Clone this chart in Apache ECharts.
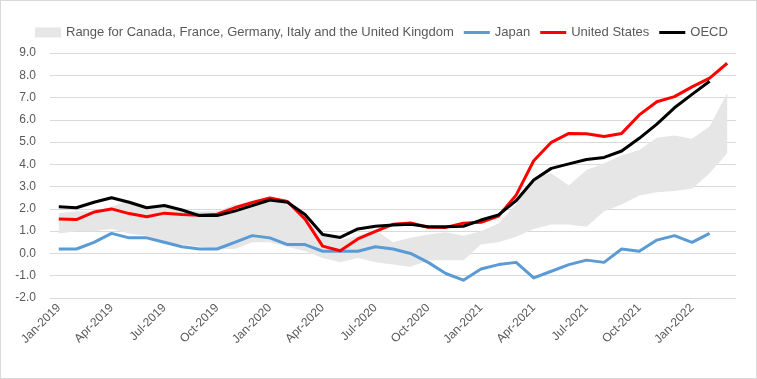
<!DOCTYPE html>
<html><head><meta charset="utf-8">
<script src="https://cdn.jsdelivr.net/npm/echarts@6/dist/echarts.min.js"></script>
<style>
html,body{margin:0;padding:0;background:#fff}
#c{width:757px;height:379px;position:absolute;left:0;top:0}
#frame{position:absolute;left:0;top:0;width:757px;height:379px;box-sizing:border-box;border:1px solid #d9d9d9;pointer-events:none}
</style>
</head><body><div id="c"></div><div id="frame"></div>
<script>
const months = ['Jan-2019','Feb-2019','Mar-2019','Apr-2019','May-2019','Jun-2019','Jul-2019','Aug-2019','Sep-2019','Oct-2019','Nov-2019','Dec-2019',
  'Jan-2020','Feb-2020','Mar-2020','Apr-2020','May-2020','Jun-2020','Jul-2020','Aug-2020','Sep-2020','Oct-2020','Nov-2020','Dec-2020',
  'Jan-2021','Feb-2021','Mar-2021','Apr-2021','May-2021','Jun-2021','Jul-2021','Aug-2021','Sep-2021','Oct-2021','Nov-2021','Dec-2021',
  'Jan-2022','Feb-2022','Mar-2022'];
const rangeName = 'Range for Canada, France, Germany, Italy and the United Kingdom';
const rangeLow = [0.9,1.0,1.0,1.1,0.9,0.8,0.4,0.4,0.3,0.2,0.2,0.5,
  0.5,0.3,0.1,-0.2,-0.4,-0.2,-0.4,-0.5,-0.6,-0.3,-0.3,-0.3,
  0.4,0.5,0.75,1.1,1.3,1.3,1.2,1.9,2.2,2.6,2.75,2.8,
  2.9,3.6,4.5];
const rangeHigh = [1.8,1.9,1.9,2.1,2.4,2.0,2.1,1.9,1.9,1.9,2.2,2.2,
  2.4,2.2,1.5,0.9,0.6,0.8,1.05,0.5,0.7,0.85,0.95,0.8,
  1.0,1.35,2.2,3.4,3.6,3.05,3.75,4.05,4.4,4.65,5.2,5.3,
  5.15,5.7,7.2];
const japan = [0.2,0.2,0.5,0.9,0.7,0.7,0.5,0.3,0.2,0.2,0.5,0.8,
  0.7,0.4,0.4,0.1,0.1,0.1,0.3,0.2,0.0,-0.4,-0.9,-1.2,
  -0.7,-0.5,-0.4,-1.1,-0.8,-0.5,-0.3,-0.4,0.2,0.1,0.6,0.8,
  0.5,0.9];
const unitedStates = [1.55,1.52,1.86,2.0,1.79,1.65,1.81,1.75,1.71,1.76,2.05,2.29,
  2.49,2.33,1.54,0.33,0.12,0.65,0.99,1.31,1.37,1.18,1.17,1.36,
  1.4,1.68,2.62,4.16,4.99,5.39,5.37,5.25,5.39,6.22,6.81,7.04,
  7.48,7.87,8.54];
const oecd = [2.1,2.05,2.3,2.5,2.3,2.05,2.15,1.95,1.7,1.7,1.9,2.15,
  2.4,2.3,1.75,0.85,0.72,1.1,1.22,1.28,1.31,1.2,1.2,1.22,
  1.5,1.73,2.37,3.3,3.82,4.02,4.22,4.31,4.6,5.17,5.81,6.54,
  7.14,7.73];

const rangeSpan = rangeHigh.map((h, i) => +(h - rangeLow[i]).toFixed(3));
const font = 'Liberation Sans';
const txt = '#595959';
const lineIcon = 'path://M0,0M26,10M0,3.5H26V6.5H0Z';

const chart = echarts.init(document.getElementById('c'), null, {renderer: 'canvas'});
chart.setOption({
  animation: false,
  backgroundColor: '#fff',
  legend: {
    left: 35, top: 26, padding: 0,
    itemWidth: 26, itemHeight: 10, itemGap: 10,
    textStyle: {color: txt, fontSize: 13, fontFamily: font},
    data: [
      {name: rangeName, icon: 'rect', itemStyle: {color: '#e7e6e6'}},
      {name: 'Japan', icon: lineIcon, itemStyle: {color: '#5b9bd5'}},
      {name: 'United States', icon: lineIcon, itemStyle: {color: '#ff0000'}},
      {name: 'OECD', icon: lineIcon, itemStyle: {color: '#000000'}}
    ]
  },
  grid: {left: 50, right: 21, top: 53, bottom: 81},
  xAxis: {
    type: 'category', data: months, boundaryGap: true,
    axisLine: {show: false}, axisTick: {show: false},
    axisLabel: {interval: 2, rotate: 45, margin: 8, color: txt, fontSize: 12, fontFamily: font}
  },
  yAxis: {
    type: 'value', min: -2, max: 9, interval: 1,
    axisLine: {show: false}, axisTick: {show: false},
    splitLine: {lineStyle: {color: '#d9d9d9', width: 1}},
    axisLabel: {margin: 14, color: txt, fontSize: 12, fontFamily: font, formatter: v => v.toFixed(1)}
  },
  series: [
    {name: 'rangeBase', type: 'line', data: rangeLow, stack: 'band', stackStrategy: 'all',
     symbol: 'none', lineStyle: {opacity: 0}, silent: true, z: 1},
    {name: rangeName, type: 'line', data: rangeSpan, stack: 'band', stackStrategy: 'all',
     symbol: 'none', lineStyle: {opacity: 0}, areaStyle: {color: '#e7e6e6', opacity: 1}, silent: true, z: 1},
    {name: 'Japan', type: 'line', data: japan, symbol: 'none', color: '#5b9bd5',
     lineStyle: {color: '#5b9bd5', width: 3, join: 'round'}, z: 3},
    {name: 'United States', type: 'line', data: unitedStates, symbol: 'none', color: '#ff0000',
     lineStyle: {color: '#ff0000', width: 3, join: 'round'}, z: 4},
    {name: 'OECD', type: 'line', data: oecd, symbol: 'none', color: '#000000',
     lineStyle: {color: '#000000', width: 3, join: 'round'}, z: 5}
  ]
});
</script></body></html>
